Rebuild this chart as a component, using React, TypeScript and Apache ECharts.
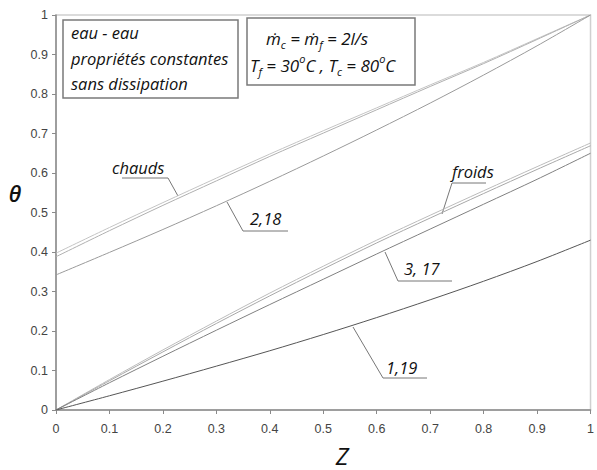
import React, { useEffect, useRef } from "react";
import * as echarts from "echarts";

const Z = [0, 0.1, 0.2, 0.3, 0.4, 0.5, 0.6, 0.7, 0.8, 0.9, 1];
const chaudsA = [0.397, 0.462, 0.525, 0.587, 0.648, 0.707, 0.765, 0.823, 0.88, 0.94, 1];
const chaudsB = [0.388, 0.454, 0.518, 0.58, 0.642, 0.701, 0.76, 0.819, 0.877, 0.938, 1];
const chauds218 = [0.342, 0.399, 0.457, 0.517, 0.579, 0.643, 0.709, 0.777, 0.848, 0.922, 1];
const froidsA = [0, 0.077, 0.152, 0.225, 0.296, 0.364, 0.43, 0.493, 0.555, 0.616, 0.676];
const froidsB = [0, 0.074, 0.147, 0.219, 0.289, 0.357, 0.423, 0.486, 0.548, 0.609, 0.669];
const froids317 = [0, 0.069, 0.136, 0.202, 0.267, 0.331, 0.395, 0.458, 0.521, 0.584, 0.65];
const serie119 = [0, 0.036, 0.073, 0.111, 0.15, 0.191, 0.234, 0.279, 0.326, 0.376, 0.43];
const axisTicks = [0, 0.1, 0.2, 0.3, 0.4, 0.5, 0.6, 0.7, 0.8, 0.9, 1];

const FONT = '"Open Sans", "DejaVu Sans", sans-serif';

function mk(name: string, ys: number[], color: string, width = 1) {
  return {
    name,
    type: "line",
    data: Z.map((z, i) => [z, ys[i]]),
    showSymbol: false,
    smooth: 0.3,
    lineStyle: { color, width },
    z: 3,
  };
}

export default function App() {
  const ref = useRef<HTMLDivElement>(null);
  useEffect(() => {
    if (!ref.current) return;
    const chart = echarts.init(ref.current, null, { renderer: "svg" });
    const lbl = { fontFamily: FONT, fontStyle: "italic", fontSize: 16.5, fill: "#111" };
    const lead = { stroke: "#777", lineWidth: 1 };
    const m = { fontFamily: FONT, fontStyle: "italic", fontSize: 17, fill: "#111", lineHeight: 24, verticalAlign: "middle" };
    const s = { fontFamily: FONT, fontStyle: "italic", fontSize: 11, fill: "#111", lineHeight: 24, verticalAlign: "bottom" };
    const p = { fontFamily: FONT, fontStyle: "italic", fontSize: 11, fill: "#111", lineHeight: 24, verticalAlign: "top" };
    const option: any = {
      animation: false,
      backgroundColor: "#fff",
      grid: {
        left: 56,
        right: 1,
        top: 15,
        bottom: 60,
        show: true,
        borderColor: "#d0d0d0",
        borderWidth: 1.5,
      },
      xAxis: {
        type: "value",
        min: axisTicks[0],
        max: axisTicks[axisTicks.length - 1],
        interval: 0.1,
        axisLine: { lineStyle: { color: "#8a8a8a", width: 1.5 } },
        axisTick: { length: 4, lineStyle: { color: "#8a8a8a" } },
        axisLabel: { color: "#444", fontSize: 12.5, fontFamily: "Liberation Sans", margin: 12 },
        splitLine: { show: false },
      },
      yAxis: {
        type: "value",
        min: axisTicks[0],
        max: axisTicks[axisTicks.length - 1],
        interval: 0.1,
        axisLine: { show: true, lineStyle: { color: "#8a8a8a", width: 1.5 } },
        axisTick: { show: true, length: 4, lineStyle: { color: "#8a8a8a" } },
        axisLabel: { color: "#444", fontSize: 12.5, fontFamily: "Liberation Sans", margin: 8 },
        splitLine: { show: false },
      },
      series: [
        mk("chaudsA", chaudsA, "#c4c4c4"),
        mk("chaudsB", chaudsB, "#b0b0b0"),
        mk("2,18", chauds218, "#9a9a9a"),
        mk("froidsA", froidsA, "#bcbcbc"),
        mk("froidsB", froidsB, "#a8a8a8"),
        mk("3,17", froids317, "#808080"),
        mk("1,19", serie119, "#555", 1),
      ],
      graphic: [
        { type: "text", x: 15, y: 193, style: { text: "θ", fontFamily: FONT, fontStyle: "italic", fontWeight: 600, fontSize: 22, fill: "#111", align: "center", verticalAlign: "middle" } },
        { type: "text", x: 342, y: 455, style: { text: "Z", fontFamily: FONT, fontStyle: "italic", fontSize: 24, fill: "#111", align: "center", verticalAlign: "middle" } },
        // box 1
        { type: "rect", shape: { x: 63, y: 20, width: 175, height: 78 }, style: { fill: "#fff", stroke: "#7a7a7a", lineWidth: 1.5 }, z: 10 },
        { type: "text", x: 71, y: 32, z: 11, style: { ...lbl, text: "eau - eau", verticalAlign: "middle" } },
        { type: "text", x: 71, y: 58, z: 11, style: { ...lbl, text: "propriétés constantes", verticalAlign: "middle" } },
        { type: "text", x: 71, y: 83, z: 11, style: { ...lbl, text: "sans dissipation", verticalAlign: "middle" } },
        // box 2
        { type: "rect", shape: { x: 247, y: 18, width: 168, height: 67 }, style: { fill: "#fff", stroke: "#7a7a7a", lineWidth: 1.5 }, z: 10 },
        {
          type: "text", x: 266, y: 38, z: 11,
          style: { text: "{m|ṁ}{s|c}{m| = ṁ}{s|f}{m| = 2l/s}", verticalAlign: "middle", rich: { m, s } },
        },
        {
          type: "text", x: 250, y: 65, z: 11,
          style: { text: "{m|T}{s|f}{m| = 30}{p|o}{m|C , T}{s|c}{m| = 80}{p|o}{m|C}", verticalAlign: "middle", rich: { m, s, p } },
        },
        // chauds label
        { type: "text", x: 112, y: 167, style: { ...lbl, text: "chauds", verticalAlign: "middle" } },
        { type: "polyline", shape: { points: [[122, 178], [168, 178], [178, 196]] }, style: { ...lead, fill: null } },
        // 2,18
        { type: "text", x: 250, y: 218, style: { ...lbl, text: "2,18", verticalAlign: "middle" } },
        { type: "polyline", shape: { points: [[227, 202], [243, 231], [288, 231]] }, style: { ...lead, fill: null } },
        // froids
        { type: "text", x: 452, y: 171, style: { ...lbl, text: "froids", verticalAlign: "middle" } },
        { type: "polyline", shape: { points: [[442, 214], [452, 183], [486, 183]] }, style: { ...lead, fill: null } },
        // 3, 17
        { type: "text", x: 404, y: 268, style: { ...lbl, text: "3, 17", verticalAlign: "middle" } },
        { type: "polyline", shape: { points: [[385, 252], [398, 281], [452, 281]] }, style: { ...lead, fill: null } },
        // 1,19
        { type: "text", x: 386, y: 367, style: { ...lbl, text: "1,19", verticalAlign: "middle" } },
        { type: "polyline", shape: { points: [[353, 327], [383, 378], [427, 378]] }, style: { ...lead, fill: null } },
      ],
    };
    chart.setOption(option);
    return () => chart.dispose();
  }, []);
  return <div ref={ref} style={{ position: "fixed", left: 0, top: 0, width: 597, height: 470 }} />;
}
